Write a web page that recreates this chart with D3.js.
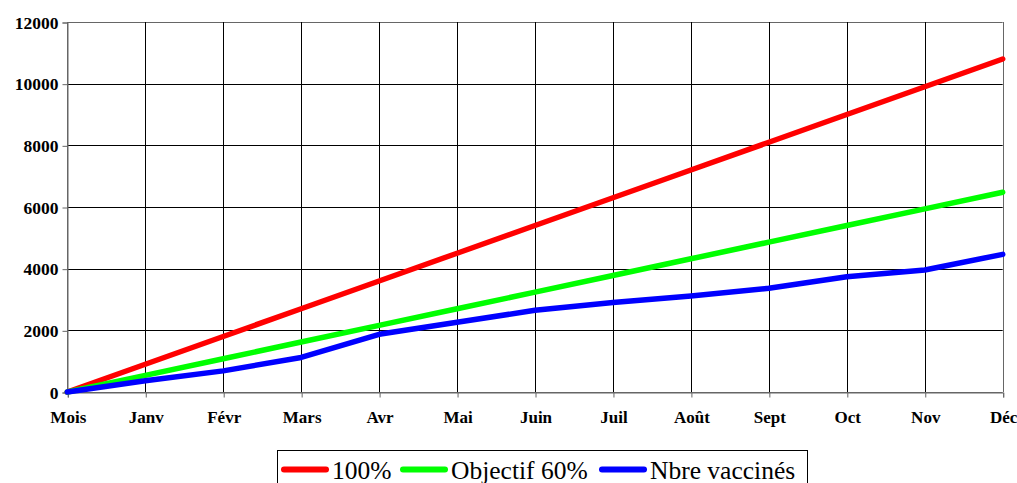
<!DOCTYPE html>
<html>
<head>
<meta charset="utf-8">
<script src="https://cdn.jsdelivr.net/npm/d3@7"></script>
<style>
  html, body { margin: 0; padding: 0; background: #fff; }
  svg { display: block; }
  svg text { font-family: "Liberation Serif", "Times New Roman", serif; }
</style>
</head>
<body>
<svg id="chart" width="1017" height="483"></svg>
<script>
// Months along the horizontal axis
const months = ["Mois", "Janv", "Févr", "Mars", "Avr", "Mai", "Juin", "Juil", "Août", "Sept", "Oct", "Nov", "Déc"];
// Cumulative target (100%)
const target100 = [0, 900, 1800, 2700, 3600, 4500, 5400, 6300, 7200, 8100, 9000, 9900, 10800];
// Cumulative objective (60%)
const objective60 = [0, 540, 1080, 1620, 2160, 2700, 3240, 3780, 4320, 4860, 5400, 5940, 6480];
// Cumulative number vaccinated
const vaccinated = [0, 365, 685, 1120, 1870, 2260, 2650, 2900, 3110, 3365, 3740, 3955, 4465];
// Vertical axis ticks
const yTicks = [0, 2000, 4000, 6000, 8000, 10000, 12000];

const seriesNames = ["100%", "Objectif 60%", "Nbre vaccinés"];
const seriesValues = [target100, objective60, vaccinated];
const seriesColors = ["#ff0000", "#00ff00", "#0000ff"];

const svg = d3.select("#chart");
const plotLeft = 67.3, plotRight = 1002.7, plotTop = 22, plotBottom = 392;

const x = d3.scalePoint().domain(months).range([plotLeft, plotRight]);
const y = d3.scaleLinear().domain([0, 12000]).range([plotBottom, plotTop]);

const serif = "'Liberation Serif', 'Times New Roman', serif";

// Horizontal gridlines
svg.append("g").selectAll("line").data(yTicks).join("line")
  .attr("x1", plotLeft).attr("x2", plotRight)
  .attr("y1", d => Math.round(y(d)) + 0.5).attr("y2", d => Math.round(y(d)) + 0.5)
  .attr("stroke", d => (d === 0 || d === 12000) ? "#666" : "#000")
  .attr("stroke-width", 1);

// Vertical gridlines
svg.append("g").selectAll("line").data(months).join("line")
  .attr("x1", d => Math.round(x(d)) + 0.5).attr("x2", d => Math.round(x(d)) + 0.5)
  .attr("y1", plotTop).attr("y2", plotBottom)
  .attr("stroke", (d, i) => (i === 0 || i === months.length - 1) ? "#666" : "#000")
  .attr("stroke-width", 1);

// Left axis
const yAxis = d3.axisLeft(y).tickValues(yTicks).tickSize(5).tickPadding(4).tickFormat(d3.format("d"));
const gy = svg.append("g").attr("transform", `translate(${Math.round(plotLeft) + 0.5},0.5)`).call(yAxis);
gy.attr("font-family", null);
gy.select(".domain").attr("stroke", "#666");
gy.selectAll(".tick line").attr("stroke", "#666");
gy.selectAll(".tick text")
  .style("font-family", serif).style("font-size", "17.5px").style("font-weight", "bold").attr("fill", "#000");

// Bottom axis
const xAxis = d3.axisBottom(x).tickSize(5).tickPadding(13);
const gx = svg.append("g").attr("transform", `translate(0.5,${Math.round(plotBottom) + 0.5})`).call(xAxis);
gx.attr("font-family", null);
gx.select(".domain").attr("stroke", "#666");
gx.selectAll(".tick line").attr("stroke", "#666");
gx.selectAll(".tick text")
  .style("font-family", serif).style("font-size", "17px").style("font-weight", "bold").attr("fill", "#000");

// Series lines
const line = d3.line().x((d, i) => x(months[i])).y(d => y(d));
svg.append("g").selectAll("path").data(seriesValues).join("path")
  .attr("d", line)
  .attr("fill", "none")
  .attr("stroke", (d, i) => seriesColors[i])
  .attr("stroke-width", 5.5)
  .attr("stroke-linejoin", "round")
  .attr("stroke-linecap", "round");

// Legend
const legend = svg.append("g");
legend.append("rect")
  .attr("x", 277.5).attr("y", 450.5).attr("width", 530).attr("height", 50)
  .attr("fill", "#fff").attr("stroke", "#000").attr("stroke-width", 1);
const legendX = [284, 403, 602];
const items = legend.selectAll("g.item").data(seriesNames).join("g").attr("class", "item")
  .attr("transform", (d, i) => `translate(${legendX[i]},0)`);
items.append("line")
  .attr("x1", 0).attr("x2", 42).attr("y1", 469.5).attr("y2", 469.5)
  .attr("stroke", (d, i) => seriesColors[i]).attr("stroke-width", 6).attr("stroke-linecap", "round");
items.append("text")
  .attr("x", 48).attr("y", 479)
  .style("font-family", serif).style("font-size", "25.5px").attr("fill", "#000")
  .text(d => d);
</script>
</body>
</html>
